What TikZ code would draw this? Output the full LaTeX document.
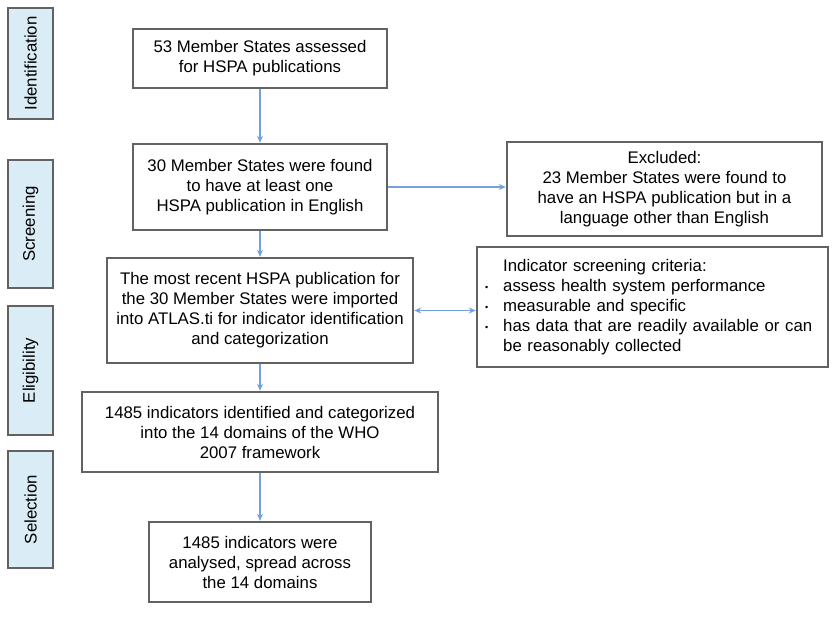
\documentclass[tikz,border=0pt]{standalone}
\usepackage{fontspec}
\setmainfont{Liberation Sans}
\usetikzlibrary{arrows.meta}
\definecolor{arrowblue}{HTML}{74A0DC}
\definecolor{phasefill}{HTML}{DAECF5}
\definecolor{boxline}{HTML}{626262}
\begin{document}
\begin{tikzpicture}[x=1pt,y=-1pt,
  box/.style={draw=boxline, line width=2.4pt, fill=white, align=center, inner sep=0pt, font=\fontsize{16.8}{20}\selectfont},
  phase/.style={draw=boxline, line width=2.4pt, fill=phasefill, inner sep=0pt, rotate=90, font=\fontsize{16.8}{20}\selectfont},
  arr/.style={draw=arrowblue, line width=1.4pt, -{Stealth[length=7pt,width=6pt]}},
  darr/.style={draw=arrowblue, line width=1.4pt, {Stealth[length=7pt,width=6pt]}-{Stealth[length=7pt,width=6pt]}}]
\useasboundingbox (0,0) rectangle (834,620);
\fill[white] (0,0) rectangle (834,620);

% phase labels
\node[phase, minimum width=111pt, minimum height=45pt] (pid) at (30.5,63.5) {Identification};
\node[phase, minimum width=128pt, minimum height=45pt] (psc) at (30.5,224) {Screening};
\node[phase, minimum width=129pt, minimum height=45pt] (pel) at (30.5,370.5) {Eligibility};
\node[phase, minimum width=117pt, minimum height=45pt] (pse) at (30.5,509.5) {Selection};

% main boxes
\node[box, minimum width=254pt, minimum height=59pt] (b1) at (260,58.5)
  {53 Member States assessed\\ for HSPA publications};
\node[box, minimum width=254pt, minimum height=86pt] (b2) at (260,187)
  {30 Member States were found\\ to have at least one\\ HSPA publication in English};
\node[box, minimum width=315pt, minimum height=94pt] (ex) at (664.5,189)
  {Excluded:\\ 23 Member States were found to\\ have an HSPA publication but in a\\ language other than English};
\node[box, minimum width=306pt, minimum height=105pt] (b3) at (260,310.5)
  {The most recent HSPA publication for\\ the 30 Member States were imported\\ into ATLAS.ti for indicator identification\\ and categorization};
\node[box, align=left, text width=335pt, inner xsep=8pt, inner ysep=0pt, minimum height=120pt] (crit) at (652.5,307)
  {\begin{tabular}{@{}l@{\hspace{15pt}}l@{}}
   & Indicator screening criteria:\\
   \raisebox{1pt}{\small\textbullet} & assess health system performance\\
   \raisebox{1pt}{\small\textbullet} & measurable and specific\\
   \raisebox{1pt}{\small\textbullet} & has data that are readily available or can\\
   & be reasonably collected
   \end{tabular}};
\node[box, minimum width=356pt, minimum height=80pt] (b4) at (260,432)
  {1485 indicators identified and categorized\\ into the 14 domains of the WHO\\ 2007 framework};
\node[box, minimum width=222pt, minimum height=80pt] (b5) at (260,562)
  {1485 indicators were\\ analysed, spread across\\ the 14 domains};

% connectors
\draw[arr] (b1.south) -- (b2.north);
\draw[arr] (b2.south) -- (b3.north);
\draw[arr] (b3.south) -- (b4.north);
\draw[arr] (b4.south) -- (b5.north);
\draw[arr] (b2.east) -- (b2.east -| ex.west);
\draw[darr] (b3.east) -- (b3.east -| crit.west);
\end{tikzpicture}
\end{document}
